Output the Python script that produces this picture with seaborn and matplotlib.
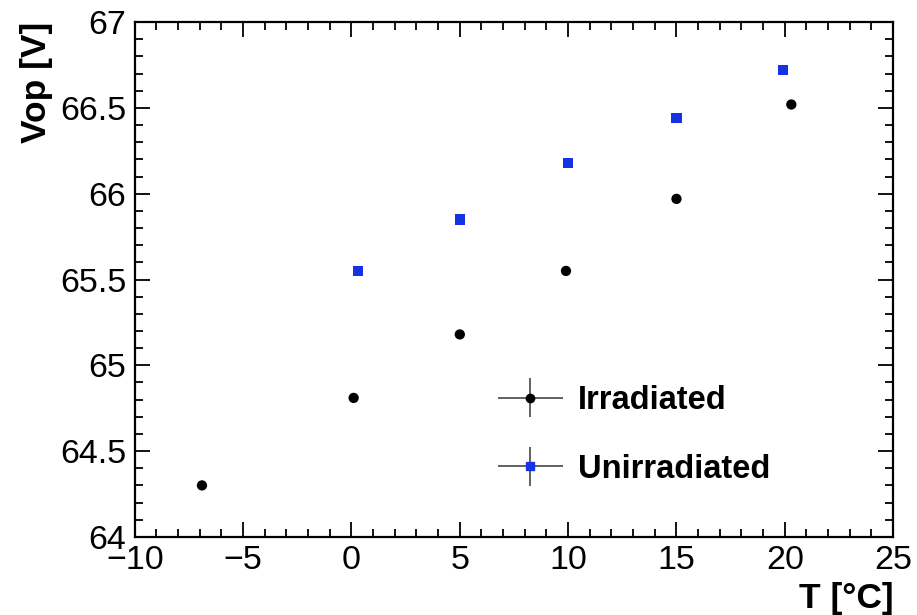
import numpy as np
import pandas as pd
import seaborn as sns
import matplotlib.pyplot as plt
from matplotlib.lines import Line2D
from matplotlib.container import ErrorbarContainer
from matplotlib.legend_handler import HandlerTuple, HandlerErrorbar
from matplotlib.ticker import MultipleLocator

# values
t_irr = [-6.9, 0.1, 5.0, 9.9, 15.0, 20.3]
v_irr = [64.30, 64.81, 65.18, 65.55, 65.97, 66.52]
t_unirr = [0.3, 5.0, 10.0, 15.0, 19.9]
v_unirr = [65.55, 65.85, 66.18, 66.44, 66.72]
labels = ['Irradiated', 'Unirradiated']
colors = {'Irradiated': 'black', 'Unirradiated': '#1533e6'}

df = pd.DataFrame({
    'T': t_irr + t_unirr,
    'Vop': v_irr + v_unirr,
    'sample': [labels[0]] * len(t_irr) + [labels[1]] * len(t_unirr),
})

sns.set_style('ticks', {'axes.edgecolor': 'black', 'text.color': 'black',
                        'xtick.color': 'black', 'ytick.color': 'black',
                        'axes.labelcolor': 'black'})
plt.rcParams['font.family'] = ['Liberation Sans', 'DejaVu Sans']

fig = plt.figure(figsize=(9.17, 6.15), dpi=100)
ax = fig.add_axes([0.147, 0.127, 0.827, 0.837])

sns.scatterplot(data=df, x='T', y='Vop', hue='sample', style='sample',
                palette=colors, markers={'Irradiated': 'o', 'Unirradiated': 's'},
                s=55, edgecolor='none', legend=False, ax=ax)

# error bars too small to see, only shown in the legend
err_irr = ax.errorbar(t_irr, v_irr, xerr=0, yerr=0, fmt='none', ecolor='#555555', elinewidth=1.3)
err_unirr = ax.errorbar(t_unirr, v_unirr, xerr=0, yerr=0, fmt='none', ecolor='#555555', elinewidth=1.3)
mk_irr = Line2D([], [], marker='o', ls='none', color='black', markersize=6)
mk_unirr = Line2D([], [], marker='s', ls='none', color=colors['Unirradiated'], markersize=6)

ax.set_xlim(-10, 25)
ax.set_ylim(64, 67)
ax.xaxis.set_major_locator(MultipleLocator(5))
ax.xaxis.set_minor_locator(MultipleLocator(1))
ax.yaxis.set_major_locator(MultipleLocator(0.5))
ax.yaxis.set_minor_locator(MultipleLocator(0.1))
ax.yaxis.set_major_formatter(plt.FuncFormatter(lambda v, p: f'{v:g}'))

ax.tick_params(which='both', direction='in', top=True, right=True, width=1.3, labelsize=24.5, pad=6)
ax.tick_params(which='major', length=11)
ax.tick_params(which='minor', length=5.5)
for sp in ax.spines.values():
    sp.set_linewidth(1.6)
    sp.set_visible(True)

ax.set_xlabel('T [°C]', fontsize=25.5, fontweight='bold', loc='right')
ax.set_ylabel('Vop [V]', fontsize=25.5, fontweight='bold', loc='top')
ax.xaxis.set_label_coords(1.0, -0.088)
ax.yaxis.set_label_coords(-0.108, 1.0)

leg = ax.legend([(err_irr, mk_irr), (err_unirr, mk_unirr)], labels,
                handler_map={tuple: HandlerTuple(ndivide=1, pad=0),
                             ErrorbarContainer: HandlerErrorbar(xerr_size=1.0, yerr_size=0.6)},
                loc='upper left', bbox_to_anchor=(0.44, 0.352), frameon=False,
                prop={'size': 23.5, 'weight': 'bold'}, handlelength=2.0,
                handletextpad=0.45, labelspacing=1.15)

plt.savefig('out.png', dpi=100)
